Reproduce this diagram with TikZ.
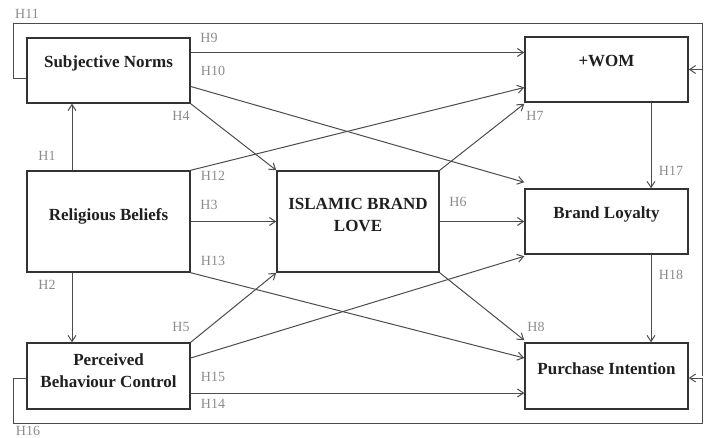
\documentclass[tikz,border=0pt]{standalone}
\usepackage{fontspec}
\setmainfont{Liberation Serif}
\usetikzlibrary{arrows.meta,calc}
\begin{document}
\begin{tikzpicture}[x=1pt,y=-1pt,
  box/.style={draw=black!80,line width=1.5pt,inner sep=0pt,minimum width=163pt},
  btext/.style={anchor=base,inner sep=0pt,font=\fontsize{17}{22}\selectfont\bfseries,text=black!88},
  hlab/.style={inner sep=0pt,font=\fontsize{14}{16}\selectfont,text=black!45},
  conn/.style={draw=black!70,line width=1pt},
  arr/.style={conn,-{Straight Barb[length=6pt,width=8pt]}}]
\useasboundingbox (0,0) rectangle (704,438);
% boxes
\node[box,minimum height=65pt] (sn) at (108.5,70.5) {};
\node[box,minimum height=101pt] (rb) at (108.5,221.5) {};
\node[box,minimum height=66pt] (pbc) at (108.5,376) {};
\node[box,minimum width=162pt,minimum height=101pt] (isb) at (358,221.5) {};
\node[box,minimum height=65pt] (wom) at (606.5,69.5) {};
\node[box,minimum height=65pt] (bl) at (606.5,221.5) {};
\node[box,minimum height=66pt] (pi) at (606.5,376) {};
% box texts
\node[btext] (snt) at ([yshift=3pt]sn.center) {Subjective Norms};
\node[btext] (rbt) at ([yshift=1pt]rb.center) {Religious Beliefs};
\node[btext] (pbct1) at ([yshift=11pt]pbc.center) {Perceived};
\node[btext] (pbct2) at ([yshift=-11pt]pbc.center) {Behaviour Control};
\node[btext] (isbt1) at ([yshift=12pt]isb.center) {ISLAMIC BRAND};
\node[btext] (isbt2) at ([yshift=-10pt]isb.center) {LOVE};
\node[btext] (womt) at ([yshift=3pt]wom.center) {+WOM};
\node[btext] (blt) at ([yshift=3pt]bl.center) {Brand Loyalty};
\node[btext] (pit) at ([yshift=2pt]pi.center) {Purchase Intention};
% frame corners
\coordinate (tl) at (13,24);
\coordinate (tr) at (702,24);
\coordinate (bl2) at (13,423);
\coordinate (br) at (702,423);
% connectors
\draw[arr] ([xshift=-36.5pt]rb.north) coordinate (h1s) -- (h1s |- sn.south);
\draw[arr] ([xshift=-36.5pt]rb.south) coordinate (h2s) -- (h2s |- pbc.north);
\draw[arr] ([yshift=18pt]sn.east) coordinate (h9s) -- (wom.west |- h9s);
\draw[arr] ([yshift=-16pt]sn.east) -- ([yshift=6pt]bl.north west);
\draw[arr] (sn.south east) -- (isb.north west);
\draw[arr] (rb.north east) -- ([yshift=-18pt]wom.west);
\draw[arr] (rb.east) -- (isb.west);
\draw[arr] (rb.south east) -- ([yshift=18pt]pi.west);
\draw[arr] (pbc.north east) -- (isb.south west);
\draw[arr] ([yshift=18pt]pbc.east) -- ([yshift=-1.5pt]bl.south west);
\draw[arr] ([yshift=-17pt]pbc.east) coordinate (h14s) -- (pi.west |- h14s);
\draw[arr] (isb.north east) -- ([yshift=-1pt]wom.south west);
\draw[arr] (isb.east) -- (bl.west);
\draw[arr] (isb.south east) -- ([yshift=2pt]pi.north west);
\draw[arr] ([xshift=44.5pt]wom.south) coordinate (h17s) -- (h17s |- bl.north);
\draw[arr] ([xshift=44.5pt]bl.south) coordinate (h18s) -- (h18s |- pi.north);
\draw[arr] ([yshift=-8pt]sn.west) -| (tl) -- (tr) |- (wom.east);
\draw[arr] ([yshift=-2pt]pbc.west) -| (bl2) -- (br) |- ([yshift=-2pt]pi.east);
\draw[conn] (tr |- wom.east) -- (br |- pi.east);
% labels
\node[hlab] (h11) at (27,14) {H11};
\node[hlab] (h9) at (209,38) {H9};
\node[hlab] (h10) at (213,71) {H10};
\node[hlab] (h4) at (181,116) {H4};
\node[hlab] (h1) at (47,156) {H1};
\node[hlab] (h12) at (213,176) {H12};
\node[hlab] (h3) at (209,205) {H3};
\node[hlab] (h13) at (213,261) {H13};
\node[hlab] (h2) at (47,285) {H2};
\node[hlab] (h5) at (181,327) {H5};
\node[hlab] (h15) at (213,377) {H15};
\node[hlab] (h14) at (213,404) {H14};
\node[hlab] (h16) at (28,431) {H16};
\node[hlab] (h7) at (535,116) {H7};
\node[hlab] (h17) at (671,171) {H17};
\node[hlab] (h18) at (671,275) {H18};
\node[hlab] (h6) at (458,202) {H6};
\node[hlab] (h8) at (536,327) {H8};
\end{tikzpicture}
\end{document}
